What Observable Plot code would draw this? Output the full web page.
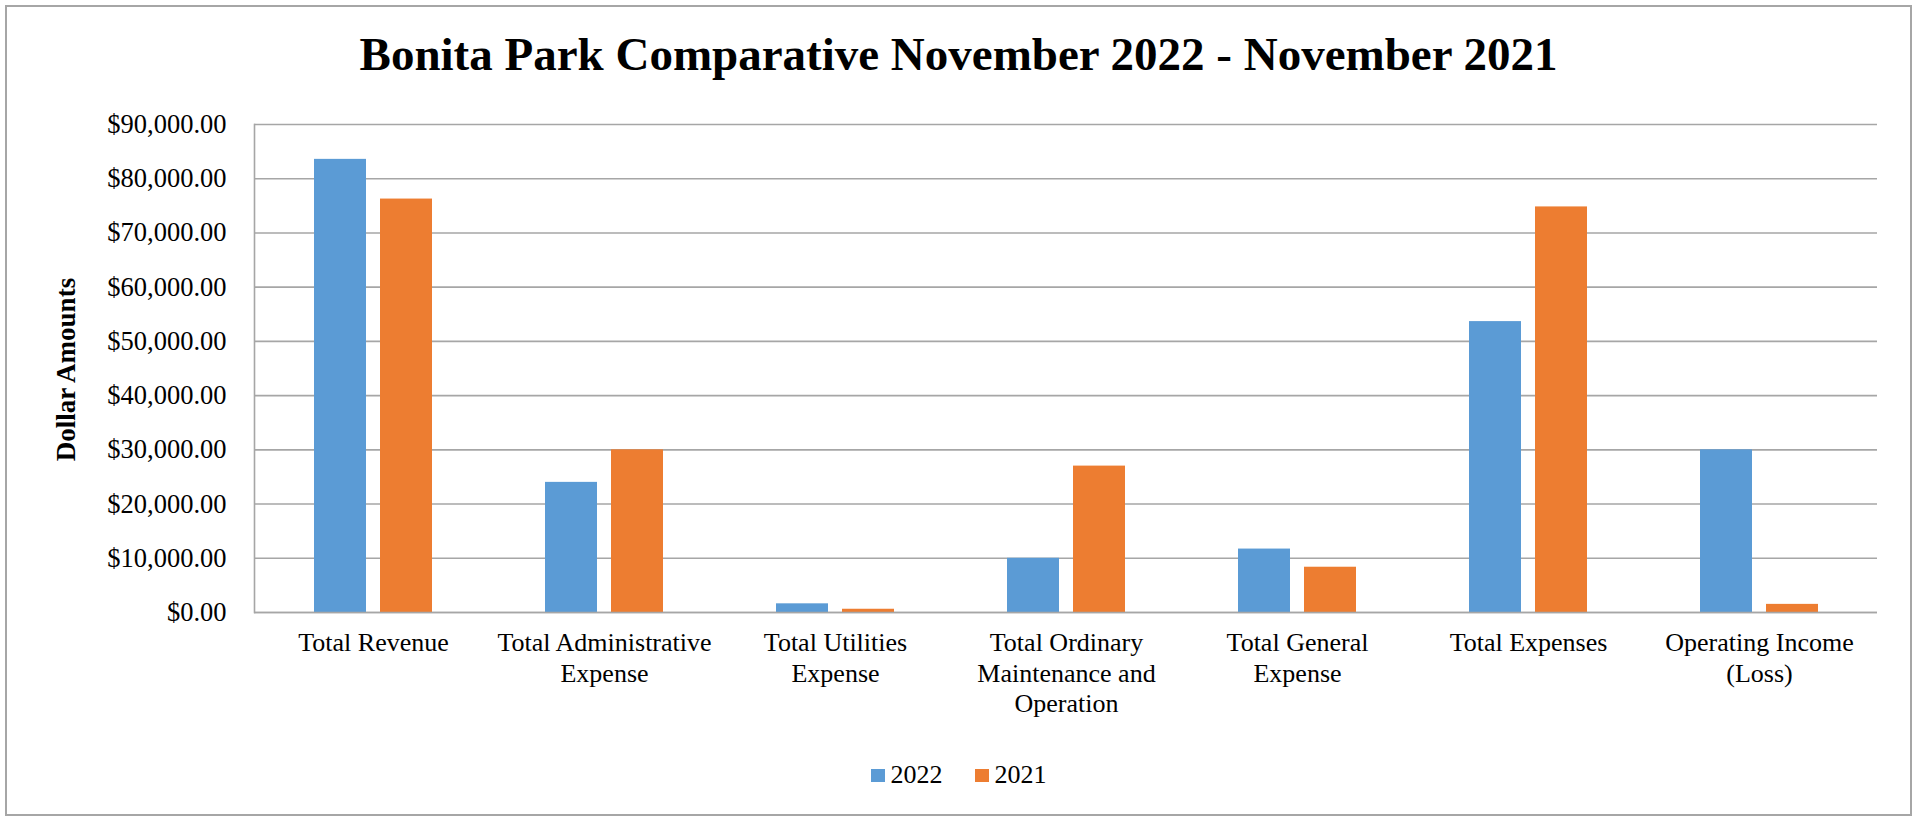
<!DOCTYPE html>
<html>
<head>
<meta charset="utf-8">
<script src="https://cdn.jsdelivr.net/npm/d3@7"></script>
<script src="https://cdn.jsdelivr.net/npm/@observablehq/plot@0.6"></script>
<style>
  html, body { margin: 0; padding: 0; background: #ffffff; }
  body { width: 1917px; height: 817px; position: relative; overflow: hidden; font-family: "Liberation Serif", "Times New Roman", serif; }
  #frame { position: absolute; left: 5px; top: 5px; width: 1907px; height: 811px; box-sizing: border-box; border: 2px solid #a6a6a6; }
  #title { position: absolute; left: 0; top: 31px; width: 1917px; text-align: center; font-weight: bold; font-size: 47px; line-height: 47px; color: #000; }
  #chart { position: absolute; left: 0; top: 100px; }
  #legend { position: absolute; left: 0; top: 760px; width: 1917px; display: flex; justify-content: center; align-items: center; font-size: 26px; line-height: 30px; color: #000; }
  .item { display: flex; align-items: center; }
  .item + .item { margin-left: 32px; }
  .sw { width: 14px; height: 13px; margin-right: 6px; }
</style>
</head>
<body>
<div id="frame"></div>
<div id="title">Bonita Park Comparative November 2022 - November 2021</div>
<div id="chart"></div>
<div id="legend"></div>
<script>
const categories = [
  "Total Revenue",
  "Total Administrative Expense",
  "Total Utilities Expense",
  "Total Ordinary Maintenance and Operation",
  "Total General Expense",
  "Total Expenses",
  "Operating Income (Loss)"
];
const tickLabels = [
  "Total Revenue",
  "Total Administrative\nExpense",
  "Total Utilities\nExpense",
  "Total Ordinary\nMaintenance and\nOperation",
  "Total General\nExpense",
  "Total Expenses",
  "Operating Income\n(Loss)"
];
const years = ["2022", "2021"];
const values2022 = [83570, 24000, 1600, 10000, 11700, 53650, 30000];
const values2021 = [76250, 30000, 600, 27000, 8350, 74800, 1500];
const yTicks = [0, 10000, 20000, 30000, 40000, 50000, 60000, 70000, 80000, 90000];
const colors = ["#5b9bd5", "#ed7d31"];
const yLabel = "Dollar Amounts";

const rows2022 = categories.map((c, i) => ({category: c, year: years[0], value: values2022[i]}));
const rows2021 = categories.map((c, i) => ({category: c, year: years[1], value: values2021[i]}));

const font = '"Liberation Serif", "Times New Roman", serif';
const grid = "#a6a6a6";

const chart = Plot.plot({
  width: 1917,
  height: 632,
  marginLeft: 254,
  marginRight: 40,
  marginTop: 24,
  marginBottom: 120,
  style: {fontFamily: font, fontSize: "26px", color: "#000", background: "transparent", overflow: "visible"},
  x: {domain: categories, paddingInner: 0.777, paddingOuter: 0.3885, label: null},
  y: {domain: [0, 90000], label: null},
  color: {domain: years, range: colors},
  marks: [
    Plot.gridY(yTicks, {stroke: grid, strokeOpacity: 1, strokeWidth: 1.6}),
    Plot.barY(rows2022, {x: "category", y: "value", fill: "year", dx: -33}),
    Plot.barY(rows2021, {x: "category", y: "value", fill: "year", dx: 33}),
    Plot.ruleY([0], {stroke: grid, strokeWidth: 1.6}),
    Plot.frame({anchor: "left", stroke: grid, strokeWidth: 1.6}),
    Plot.axisY(yTicks, {tickSize: 0, tickPadding: 28, fontSize: 26.5, tickFormat: d3.format("$,.2f"), label: null}),
    Plot.axisX({tickSize: 0, tickPadding: 17, fontSize: 26, lineHeight: 1.17, label: null,
      tickFormat: d => tickLabels[categories.indexOf(d)]}),
    Plot.text([yLabel], {frameAnchor: "left", textAnchor: "middle", lineAnchor: "middle", rotate: -90, dx: -188, dy: 1, fontWeight: "bold", fontSize: 27, fill: "#000"})
  ]
});
document.getElementById("chart").appendChild(chart);

const legend = d3.select("#legend");
years.forEach((y, i) => {
  const it = legend.append("div").attr("class", "item");
  it.append("div").attr("class", "sw").style("background", colors[i]);
  it.append("span").text(y);
});
</script>
</body>
</html>
